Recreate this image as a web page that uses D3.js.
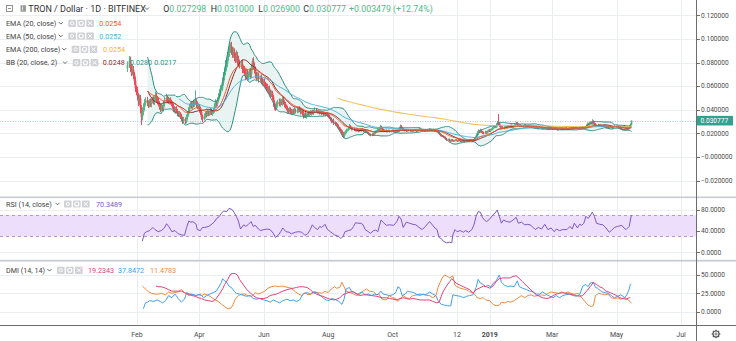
<!DOCTYPE html>
<html><head><meta charset="utf-8">
<script src="https://cdn.jsdelivr.net/npm/d3@7"></script>
<style>
html,body{margin:0;padding:0;background:#fff;}
svg{display:block;font-family:Roboto,"Open Sans","Noto Sans",sans-serif;}
</style></head>
<body><svg id="chart" width="736" height="341"></svg>
<script>
// ---------------- DATA ----------------
// day offsets are counted from 2018-02-01; prices in units of 0.00001
const dayZero = [2018, 1, 1];
const firstCandleDay = -9;
const firstOpen = 7500;
const closes = [
7800,8150,7600,7150,7400,7000,6450,5800,5650,5150,
4700,4950,4200,3400,3800,4250,4550,4800,4600,4400,
4650,4500,4750,4850,4700,4950,5200,4900,4750,4500,
4250,4100,4200,4150,4500,4800,5000,4850,4700,4800,
4650,4550,4300,4050,3950,4100,3900,3700,3600,3650,
3450,3250,3050,3200,3000,3350,3600,3900,4250,4450,
4300,4550,4400,4600,4700,4450,4250,4350,4050,3800,
3400,3250,3450,3700,3600,3800,3650,3750,3900,3700,
3800,3950,4300,4600,4500,4800,5100,5400,5800,6300,
6800,7200,7700,7900,8500,8800,9200,9400,9000,8700,
8900,8500,8300,8600,8200,8000,7800,7900,7500,7400,
7200,6900,7100,6800,7000,7200,7000,7600,8100,7700,
7400,7000,6800,6900,6600,6700,6450,6300,6400,6150,
6000,5900,5700,5800,5500,5300,5400,5100,4600,4300,
4200,4450,4650,4500,4700,4600,4900,4650,4450,4300,
4150,4000,3900,4050,3850,3750,3900,3800,3950,3850,
3950,4100,3950,3800,3900,3700,3500,3600,3450,3550,
3700,3600,3750,3650,3800,3700,3850,4000,3900,3800,
3850,3750,3800,3700,3750,3650,3700,3600,3650,3550,
3450,3300,3200,3050,3100,2900,2800,2750,2600,2450,
2350,2250,2100,1900,1800,2000,2150,2250,2300,2400,
2600,2450,2350,2400,2300,2250,2350,2250,2200,2300,
2250,2350,2300,2200,2250,2150,2100,2050,1950,1900,
1850,1950,1900,2000,2150,2200,2300,2250,2350,2550,
2400,2300,2250,2200,2250,2150,2200,2250,2150,2200,
2250,2150,2200,2100,2150,2250,2200,2350,2600,2450,
2350,2300,2250,2300,2200,2250,2300,2200,2250,2200,
2250,2300,2250,2200,2250,2300,2350,2300,2250,2300,
2250,2200,2250,2300,2250,2350,2300,2250,2300,2250,
2200,2250,2150,2200,2050,1950,1850,1800,1750,1700,
1650,1550,1450,1500,1400,1350,1450,1400,1350,1400,
1450,1400,1350,1450,1400,1350,1300,1400,1350,1300,
1350,1400,1350,1400,1450,1400,1350,1400,1500,1650,
1850,2000,2200,2150,2250,2100,2050,2000,2100,2050,
2150,2250,2200,2300,2350,2450,2500,2600,2550,2700,
2900,2850,2650,2500,2550,2450,2500,2550,2500,2600,
2550,2600,2650,2550,2600,2650,2700,2750,2850,2700,
2650,2700,2650,2600,2650,2700,2650,2600,2650,2600,
2550,2600,2500,2550,2500,2450,2500,2450,2400,2450,
2500,2450,2400,2450,2500,2400,2450,2400,2350,2400,
2450,2400,2350,2400,2350,2400,2350,2300,2350,2400,
2350,2400,2350,2400,2450,2400,2350,2400,2450,2400,
2450,2500,2400,2450,2500,2450,2400,2450,2500,2450,
2500,2450,2500,2550,2650,2800,2750,2850,2900,2850,
3000,2850,2750,2650,2700,2650,2700,2650,2600,2650,
2600,2650,2550,2500,2550,2450,2500,2550,2500,2450,
2550,2600,2550,2600,2500,2450,2400,2350,2300,2350,
2300,2350,2400,2350,2450,2550,2730,3078];
const upperWicks = [
300,400,350,250,450,300,200,350,250,300,
250,350,300,200,400,300,350,250,300,200,
250,300,200,250,300,200,350,250,200,250,
200,250,300,200,250,300,350,200,250,200,
250,200,150,200,250,150,200,150,200,250,
150,200,150,200,150,250,200,300,250,200,
250,200,300,250,950,200,250,200,150,200,
150,200,250,150,200,250,150,200,250,200,
200,150,250,300,200,250,300,350,300,400,
400,350,500,450,400,450,400,300,350,300,
400,300,350,450,300,350,250,300,350,250,
300,250,350,300,250,300,350,300,250,350,
300,250,200,300,250,200,300,250,200,250,
200,250,300,200,250,200,250,200,150,200,
200,250,200,300,250,200,250,200,150,200,
150,200,150,200,150,200,150,200,250,150,
200,150,200,150,200,150,200,150,200,150,
150,200,150,200,150,200,150,200,150,100,
150,100,150,100,150,100,150,100,150,100,
100,150,100,150,100,150,100,150,100,150,
100,150,100,150,200,150,100,150,100,150,
200,100,80,100,80,100,120,80,100,80,
100,80,120,80,100,80,100,80,100,80,
80,100,80,120,100,80,100,80,120,150,
100,80,100,80,60,80,100,80,60,80,
80,60,80,100,80,60,80,100,150,100,
80,60,80,60,80,60,80,60,80,60,
60,80,60,80,60,80,100,60,80,60,
80,60,80,60,80,100,60,80,60,80,
60,80,60,80,60,80,60,80,60,80,
60,80,60,50,60,50,80,60,50,60,
60,50,60,80,60,50,60,80,60,50,
50,60,50,60,80,60,50,60,80,100,
150,200,150,100,150,100,80,100,120,100,
100,80,120,100,80,100,120,100,80,150,
150,740,100,80,100,80,100,80,100,80,
80,100,80,100,80,60,80,100,120,80,
60,80,60,80,60,80,60,80,60,80,
60,80,60,50,60,50,60,50,60,50,
60,50,60,50,60,50,60,50,60,50,
50,60,50,60,50,60,50,60,50,60,
50,60,50,60,50,60,50,60,50,60,
60,50,60,50,60,50,60,50,60,50,
50,60,50,80,100,120,100,150,100,120,
200,100,80,100,80,100,80,60,80,60,
60,80,60,50,60,50,60,80,60,50,
60,80,60,80,60,50,60,50,60,50,
50,60,50,60,50,60,80,22];
const lowerWicks = [
300,250,400,300,250,400,350,300,400,350,
400,300,500,700,300,250,300,200,300,250,
200,250,300,200,250,300,200,250,300,200,
250,300,200,250,300,200,250,300,200,250,
200,250,200,250,200,300,200,250,200,150,
200,250,250,150,200,150,200,150,200,150,
200,250,200,150,200,250,200,250,300,250,
250,300,150,200,250,150,200,150,200,150,
200,150,200,150,250,200,150,200,250,200,
250,300,250,400,300,350,300,400,350,300,
300,400,350,300,400,350,300,350,400,300,
350,400,300,350,300,250,350,300,250,300,
300,350,300,250,300,250,300,250,300,250,
250,300,250,300,250,300,250,300,350,300,
300,200,250,200,250,200,250,200,250,200,
200,250,200,150,200,150,200,150,200,150,
150,200,150,200,150,200,250,200,150,200,
150,100,150,100,150,100,150,100,150,100,
100,150,100,150,100,150,100,150,100,150,
150,100,150,200,150,200,150,100,150,100,
150,100,150,200,200,150,100,150,100,80,
100,80,100,80,100,80,100,80,100,80,
80,100,80,100,80,100,80,100,80,100,
100,80,100,80,60,80,100,80,60,80,
80,100,80,60,80,60,80,60,80,60,
60,80,60,80,60,80,60,80,60,80,
80,60,80,60,80,60,80,60,80,60,
60,80,60,80,60,80,60,80,60,80,
80,60,80,60,80,60,80,60,80,60,
60,80,60,80,100,80,100,80,60,80,
80,100,80,60,80,100,60,80,60,50,
50,60,80,50,60,80,60,50,60,80,
60,50,60,50,60,50,60,50,60,50,
80,100,80,120,100,80,100,80,60,80,
80,60,80,100,60,80,100,60,80,100,
100,150,100,80,100,80,100,80,60,80,
60,80,60,80,60,80,60,80,60,80,
80,60,80,60,80,60,80,60,80,60,
60,50,60,50,60,50,60,50,60,50,
50,60,50,60,50,60,50,60,50,60,
60,50,60,50,60,50,60,50,60,50,
50,60,50,60,50,60,50,60,50,60,
60,50,60,50,60,50,60,50,60,50,
50,60,50,60,80,100,80,100,120,100,
120,100,80,100,80,60,80,60,80,60,
60,80,60,80,60,50,60,50,60,50,
60,50,60,50,60,50,60,50,60,50,
50,60,50,60,50,60,60,40];

// RSI (14, close): [day, value]
const rsiPoints = [[5,21],[7,36],[9,39],[12,41],[15,47],[17,43],[20,39],[23,41],[26,46],[28,54],[30,49],[33,39],[36,41],[39,35],[42,33],[45,32],[47,47],[49,59],[51,57],[53,58],[56,53],[57,43],[60,41],[62,47],[64,47],[68,49],[70,52],[73,57],[75,63],[78,68],[80,74],[82,78],[85,77],[87,83],[90,81],[92,75],[94,68],[96,59],[98,44],[101,52],[103,49],[105,52],[108,58],[110,49],[112,51],[115,44],[117,41],[120,43],[123,44],[126,43],[129,36],[131,28],[134,33],[136,39],[138,46],[141,39],[144,38],[146,35],[150,38],[153,39],[156,38],[159,32],[162,36],[164,43],[166,52],[168,47],[171,43],[173,49],[175,47],[178,53],[180,44],[183,39],[185,36],[187,33],[191,30],[193,26],[195,30],[197,39],[200,41],[203,43],[205,49],[207,56],[209,55],[212,55],[214,52],[216,43],[219,39],[221,36],[224,41],[226,42],[228,39],[231,61],[233,57],[236,51],[239,52],[243,51],[246,58],[248,68],[250,63],[252,47],[255,57],[258,55],[261,53],[264,52],[267,47],[270,43],[273,49],[277,58],[280,51],[282,46],[284,43],[286,28],[288,26],[290,21],[293,18],[296,19],[298,18],[299,33],[301,43],[303,39],[306,41],[309,38],[311,41],[314,38],[317,43],[319,52],[321,68],[323,77],[325,76],[327,66],[329,61],[331,58],[334,63],[337,71],[339,74],[341,80],[343,68],[345,55],[347,61],[350,58],[353,57],[356,61],[359,66],[361,55],[364,57],[367,52],[370,53],[373,51],[377,43],[380,47],[383,44],[386,53],[389,43],[392,46],[395,39],[397,44],[400,41],[403,43],[407,43],[410,49],[412,44],[414,55],[417,46],[419,53],[421,51],[423,55],[425,68],[427,64],[429,69],[431,76],[433,68],[435,55],[438,53],[441,52],[444,46],[447,38],[449,41],[452,47],[455,49],[459,51],[461,46],[463,43],[466,49],[468,70.35]];

// DMI (14, 14): +DI, -DI, ADX  [day, value]
const plusDI = [[6,4],[8,12],[10,13],[12,15],[16,14],[19,16],[22,14],[24,12],[27,15],[30,22],[33,19],[36,24],[39,18],[42,13],[45,17],[47,26],[50,24],[54,23],[56,22],[60,24],[63,19],[66,22],[69,24],[72,26],[75,28],[78,35],[80,40],[81,45],[83,42],[85,40],[87,35],[90,32],[92,28],[94,25],[97,24],[101,22],[104,21],[107,22],[110,18],[113,17],[116,18],[120,16],[123,15],[126,13],[129,16],[132,14],[135,12],[138,15],[142,17],[145,15],[148,16],[151,14],[154,16],[157,24],[161,26],[164,24],[167,27],[170,26],[173,23],[176,19],[179,16],[182,15],[184,18],[187,17],[191,14],[194,10],[196,17],[198,31],[201,33],[203,28],[206,26],[209,24],[213,27],[216,23],[219,24],[222,22],[225,24],[228,23],[231,28],[233,24],[236,23],[239,22],[242,23],[245,26],[247,34],[249,32],[251,22],[254,24],[256,28],[259,27],[262,26],[265,23],[268,24],[272,23],[275,24],[277,27],[280,24],[283,22],[285,15],[288,10],[291,9],[294,8],[297,8],[299,23],[302,22],[306,21],[309,19],[312,21],[315,22],[318,23],[321,33],[323,44],[325,39],[328,37],[330,34],[332,36],[335,34],[338,40],[340,42],[343,50],[345,40],[348,36],[351,34],[354,35],[357,34],[360,42],[362,34],[365,32],[369,30],[372,28],[375,27],[378,24],[381,24],[384,27],[388,23],[391,21],[394,19],[397,22],[400,19],[403,22],[406,23],[409,24],[413,22],[416,21],[419,23],[422,35],[425,37],[427,34],[429,39],[432,40],[434,33],[436,32],[440,27],[443,26],[446,25],[449,22],[452,19],[455,21],[458,23],[462,19],[464,24],[466,31],[467,37],[468,37.85]];
const minusDI = [[5,35],[8,31],[11,27],[14,25],[17,24],[20,24],[23,25],[27,23],[30,27],[33,25],[36,26],[39,27],[42,30],[45,26],[49,22],[52,24],[55,22],[58,23],[61,22],[64,24],[68,22],[71,19],[74,16],[77,14],[80,10],[83,7],[86,4],[89,5],[91,10],[93,17],[96,22],[99,24],[102,24],[105,22],[109,21],[112,26],[115,24],[118,26],[121,28],[124,32],[127,34],[131,35],[134,34],[137,35],[140,34],[143,33],[146,32],[150,27],[153,24],[156,22],[159,26],[162,23],[165,24],[168,27],[172,26],[175,25],[178,28],[181,26],[184,31],[187,34],[189,32],[192,33],[194,40],[196,34],[198,28],[202,26],[205,24],[208,22],[211,24],[214,28],[217,31],[220,28],[224,27],[227,23],[229,24],[232,17],[236,16],[239,22],[242,19],[245,18],[247,14],[249,17],[252,22],[255,19],[258,18],[261,22],[265,23],[268,22],[271,24],[274,22],[277,22],[280,19],[283,22],[285,33],[287,40],[289,46],[291,50],[294,48],[296,46],[299,49],[301,36],[303,34],[306,32],[309,31],[312,30],[315,27],[318,26],[320,23],[322,19],[325,18],[328,19],[330,16],[334,15],[337,10],[340,8],[343,9],[345,13],[348,12],[351,14],[354,13],[357,15],[360,18],[364,22],[367,19],[370,22],[373,23],[376,21],[379,22],[383,23],[386,22],[389,25],[392,27],[395,26],[399,25],[402,27],[405,25],[408,27],[411,25],[414,24],[418,25],[421,19],[424,14],[427,9],[430,7],[432,8],[434,22],[437,25],[440,24],[443,23],[446,24],[449,19],[452,18],[455,19],[458,17],[462,19],[465,16],[467,13.5],[468,11.48]];
const adxPoints = [[18,35],[20,34],[23,34],[27,32],[30,30],[33,28],[36,28],[39,28],[42,28],[45,26],[48,24],[52,22],[55,21],[58,19],[61,18],[64,16],[68,15],[71,14],[73,15],[75,18],[78,24],[81,31],[83,37],[86,44],[88,50],[90,52],[93,52],[95,50],[97,44],[101,36],[104,30],[107,26],[110,22],[113,19],[116,18],[120,18],[123,19],[126,22],[129,23],[132,24],[135,26],[138,28],[142,30],[145,31],[148,32],[151,33],[154,34],[157,34],[161,33],[164,30],[167,26],[170,24],[173,22],[176,21],[179,19],[183,17],[186,16],[189,17],[192,19],[195,23],[198,25],[202,27],[205,27],[208,24],[211,22],[214,23],[217,23],[222,22],[227,21],[232,19],[236,19],[239,18],[243,17],[246,16],[249,18],[252,19],[255,18],[258,17],[261,18],[265,17],[268,16],[271,16],[274,16],[277,16],[280,14],[284,12],[286,13],[288,21],[290,28],[293,35],[296,41],[298,45],[300,42],[302,39],[306,36],[309,34],[312,32],[315,30],[318,25],[321,30],[324,32],[328,35],[331,34],[334,32],[337,35],[340,41],[343,45],[346,46],[349,46],[353,46],[356,48],[359,49],[362,45],[365,41],[369,35],[372,31],[375,27],[378,23],[381,21],[384,19],[388,18],[391,19],[394,22],[397,24],[400,25],[403,26],[406,25],[410,24],[413,23],[416,22],[419,21],[422,22],[425,27],[429,34],[432,40],[435,37],[438,34],[441,32],[444,28],[448,26],[451,24],[454,22],[457,19],[460,18],[463,17],[466,19],[467,19.23]];

// Axis ticks & labels
const priceTicks = [0.12, 0.10, 0.08, 0.06, 0.04, 0.02, 0, -0.02];
const priceTickLabels = ["0.120000","0.100000","0.080000","0.060000","0.040000","0.020000","\u22120.000000","\u22120.020000"];
const rsiTicks = [80, 40, 0];
const rsiTickLabels = ["80.0000","40.0000","0.0000"];
const dmiTicks = [50, 25, 0];
const dmiTickLabels = ["50.0000","25.0000","0.0000"];
const timeTickDates = [[2018,1,1],[2018,3,1],[2018,5,1],[2018,7,1],[2018,9,1],[2018,11,1],[2019,0,1],[2019,2,1],[2019,4,1],[2019,6,1]];
const timeTickLabels = ["Feb","Apr","Jun","Aug","Oct","12","2019","Mar","May","Jul"];

// Legend texts
const headerTitle = "TRON / Dollar \u00b7 1D \u00b7 BITFINEX";
const ohlcLabels = ["O","H","L","C"];
const ohlcValues = ["0.027298","0.031000","0.026900","0.030777"];
const changeText = "+0.003479 (+12.74%)";
const lastPrice = 0.030777;
const emaLegend = [["EMA (20, close)","0.0254"],["EMA (50, close)","0.0252"],["EMA (200, close)","0.0254"]];
const bbLegend = ["BB (20, close, 2)","0.0248","0.0280","0.0217"];
const rsiLegend = ["RSI (14, close)","70.3489"];
const dmiLegend = ["DMI (14, 14)","19.2343","37.8472","11.4783"];

// ---------------- DRAW ----------------
const C = {
  up:"#53b987", down:"#eb4d5c", grid:"#eaeef3", text:"#4a4a4a",
  ema20:"#f0592d", ema50:"#45b3de", ema200:"#f4b43a",
  bbBasis:"#8c2a2a", bbBand:"#2f8f82", bbFill:"#e9f4f2",
  rsi:"#7e57c2", rsiFill:"#eddffc", rsiDash:"#b09ad8",
  adx:"#e5407a", pdi:"#42a0ef", mdi:"#f08a3e", last:"#2fa38f", lastDot:"#9dd5cc"
};
const svg = d3.select("#chart");
const AX = 696.5;
const dateOf = d => new Date(dayZero[0], dayZero[1], dayZero[2] + d);
const x = d3.scaleTime().domain([new Date(2018,1,1), new Date(2019,6,1)]).range([137,681]);
const yP = d3.scaleLinear().domain([0,0.12]).range([157,15.3]);
const yR = d3.scaleLinear().domain([0,80]).range([252.3,210]);
const yD = d3.scaleLinear().domain([0,50]).range([311.7,275]);
const px = v => v/100000;

const defs = svg.append("defs");
[["clipMain",0,0,AX,196],["clipRsi",0,198,AX,61],["clipDmi",0,262,AX,63.5]].forEach(([id,x0,y0,w,h])=>{
  defs.append("clipPath").attr("id",id).append("rect").attr("x",x0).attr("y",y0).attr("width",w).attr("height",h);
});

// gridlines
const g = svg.append("g");
timeTickDates.forEach(t=>{
  const xx = Math.round(x(new Date(t[0],t[1],t[2])))+0.5;
  g.append("line").attr("x1",xx).attr("x2",xx).attr("y1",0).attr("y2",326).attr("stroke",C.grid);
});
priceTicks.forEach(v=>{ const yy=Math.round(yP(v))+0.5; g.append("line").attr("x1",0).attr("x2",AX).attr("y1",yy).attr("y2",yy).attr("stroke",C.grid);});
rsiTicks.forEach(v=>{ const yy=Math.round(yR(v))+0.5; g.append("line").attr("x1",0).attr("x2",AX).attr("y1",yy).attr("y2",yy).attr("stroke",C.grid);});
dmiTicks.forEach(v=>{ const yy=Math.round(yD(v))+0.5; g.append("line").attr("x1",0).attr("x2",AX).attr("y1",yy).attr("y2",yy).attr("stroke",C.grid);});

// ---- candles & indicators
const bars = closes.map((c,i)=>{
  const o = i ? closes[i-1] : firstOpen;
  return {date:dateOf(firstCandleDay+i), o, c,
    h: Math.max(o,c)+(upperWicks[i]||0), l: Math.min(o,c)-(lowerWicks[i]||0)};
});
function ema(vals,n){
  const k=2/(n+1); let prev=null;
  return vals.map((v,i)=>{
    if(i<n-1) return null;
    prev = (i===n-1) ? d3.mean(vals.slice(0,n)) : v*k+prev*(1-k);
    return prev;
  });
}
const e20=ema(closes,20), e50=ema(closes,50), e200=ema(closes,200);
const bb = closes.map((v,i)=>{
  if(i<19) return null;
  const w=closes.slice(i-19,i+1), m=d3.mean(w);
  const sd=Math.sqrt(d3.mean(w,z=>(z-m)*(z-m)));
  return {m, u:m+2*sd, l:m-2*sd};
});

const main = svg.append("g").attr("clip-path","url(#clipMain)");
const bbData = bars.map((b,i)=>({date:b.date, v:bb[i]})).filter(d=>d.v);
main.append("path").datum(bbData)
  .attr("d", d3.area().x(d=>x(d.date)).y0(d=>yP(px(d.v.l))).y1(d=>yP(px(d.v.u))))
  .attr("fill",C.bbFill);

// dotted last price line
const yl = Math.round(yP(lastPrice))+0.5;
main.append("line").attr("x1",0).attr("x2",AX).attr("y1",yl).attr("y2",yl)
  .attr("stroke",C.lastDot).attr("stroke-dasharray","1,1.5").attr("stroke-width",1);

const cg = main.append("g");
bars.forEach(b=>{
  const xx = Math.round(x(b.date))+0.5;
  const col = b.c>=b.o ? C.up : C.down;
  cg.append("line").attr("x1",xx).attr("x2",xx).attr("y1",yP(px(b.h))).attr("y2",yP(px(b.l)))
    .attr("stroke",col).attr("stroke-width",1);
  const yt=yP(px(Math.max(b.o,b.c))), yb=yP(px(Math.min(b.o,b.c)));
  cg.append("rect").attr("x",xx-0.9).attr("width",1.8).attr("y",yt).attr("height",Math.max(0.8,yb-yt)).attr("fill",col);
});

function lineOf(arr,color,w){
  const data = bars.map((b,i)=>({date:b.date,v:arr[i]}));
  main.append("path").datum(data)
    .attr("d", d3.line().defined(d=>d.v!=null).x(d=>x(d.date)).y(d=>yP(px(d.v))))
    .attr("fill","none").attr("stroke",color).attr("stroke-width",w||1);
}
lineOf(bb.map(d=>d?d.u:null),C.bbBand,1);
lineOf(bb.map(d=>d?d.l:null),C.bbBand,1);
lineOf(bb.map(d=>d?d.m:null),C.bbBasis,1);
lineOf(e200,C.ema200,1);
lineOf(e50,C.ema50,1);
lineOf(e20,C.ema20,1);

// ---- RSI panel
const rs = svg.append("g").attr("clip-path","url(#clipRsi)");
rs.append("rect").attr("x",0).attr("width",AX).attr("y",yR(70)).attr("height",yR(30)-yR(70)).attr("fill",C.rsiFill);
[70,30].forEach(v=>{ const yy=Math.round(yR(v))+0.5;
  rs.append("line").attr("x1",0).attr("x2",AX).attr("y1",yy).attr("y2",yy).attr("stroke",C.rsiDash).attr("stroke-dasharray","3,3");});
rs.append("path").datum(rsiPoints)
  .attr("d", d3.line().x(d=>x(dateOf(d[0]))).y(d=>yR(d[1])))
  .attr("fill","none").attr("stroke",C.rsi).attr("stroke-width",1);

// ---- DMI panel
const dm = svg.append("g").attr("clip-path","url(#clipDmi)");
[[minusDI,C.mdi],[plusDI,C.pdi],[adxPoints,C.adx]].forEach(([arr,col])=>{
  dm.append("path").datum(arr)
    .attr("d", d3.line().x(d=>x(dateOf(d[0]))).y(d=>yD(d[1])))
    .attr("fill","none").attr("stroke",col).attr("stroke-width",1);
});

// ---- separators & axes
svg.append("rect").attr("x",0).attr("y",196.5).attr("width",736).attr("height",1.6).attr("fill","#c9ccd2");
svg.append("rect").attr("x",0).attr("y",259.8).attr("width",736).attr("height",1.8).attr("fill","#c9ccd2");
svg.append("line").attr("x1",0).attr("x2",736).attr("y1",325.5).attr("y2",325.5).attr("stroke","#6d6d6d");
svg.append("line").attr("x1",AX).attr("x2",AX).attr("y1",0).attr("y2",341).attr("stroke","#6d6d6d");

function yAxisLabels(ticks,labels,scale){
  ticks.forEach((v,i)=>{
    const yy = scale(v);
    svg.append("line").attr("x1",AX).attr("x2",AX+3.5).attr("y1",Math.round(yy)+0.5).attr("y2",Math.round(yy)+0.5).attr("stroke","#6d6d6d");
    svg.append("text").attr("x",701).attr("y",yy).attr("dy","0.35em")
      .attr("font-size",6.6).attr("fill",C.text).text(labels[i]);
  });
}
yAxisLabels(priceTicks,priceTickLabels,yP);
yAxisLabels(rsiTicks,rsiTickLabels,yR);
yAxisLabels(dmiTicks,dmiTickLabels,yD);

// last price tag
svg.append("rect").attr("x",697).attr("y",yP(lastPrice)-4.8).attr("width",36).attr("height",9.6).attr("fill",C.last);
svg.append("text").attr("x",700.5).attr("y",yP(lastPrice)).attr("dy","0.35em").attr("font-size",6.6).attr("fill","#fff").text(d3.format(".6f")(lastPrice));

// time labels
timeTickDates.forEach((t,i)=>{
  svg.append("text").attr("x",x(new Date(t[0],t[1],t[2]))).attr("y",334.5).attr("dy","0.35em")
    .attr("text-anchor","middle").attr("font-size",7).attr("fill",C.text)
    .attr("font-weight",timeTickLabels[i]==="2019"?"bold":"normal").text(timeTickLabels[i]);
});

// gear icon
const gear = svg.append("g").attr("transform","translate(716,334)");
d3.range(8).forEach(k=>{ const a=k*Math.PI/4;
  gear.append("line").attr("x1",Math.cos(a)*2.8).attr("y1",Math.sin(a)*2.8).attr("x2",Math.cos(a)*4.3).attr("y2",Math.sin(a)*4.3)
    .attr("stroke","#555").attr("stroke-width",1.3);});
gear.append("circle").attr("r",3).attr("fill","#fff").attr("stroke","#555").attr("stroke-width",1.1);
gear.append("circle").attr("r",1.1).attr("fill","none").attr("stroke","#555").attr("stroke-width",0.8);

// ---- legends
function chevron(x0,yc){
  svg.append("path").attr("d",`M${x0},${yc-1.2} L${x0+2},${yc+0.8} L${x0+4},${yc-1.2}`)
    .attr("fill","none").attr("stroke","#555").attr("stroke-width",0.9);
}
function icons(x0,yc){
  [0,1,2].forEach(k=>{
    const gx=x0+k*9, gy=yc-3.6;
    svg.append("rect").attr("x",gx).attr("y",gy).attr("width",7.6).attr("height",7.2).attr("rx",0.8).attr("fill","#cfd1d4");
    if(k===0){ svg.append("circle").attr("cx",gx+3.8).attr("cy",gy+3.6).attr("r",1.6).attr("fill","none").attr("stroke","#fff").attr("stroke-width",0.9);}
    if(k===1){ svg.append("circle").attr("cx",gx+3.8).attr("cy",gy+3.6).attr("r",2).attr("fill","none").attr("stroke","#fff").attr("stroke-width",1.1);}
    if(k===2){ svg.append("path").attr("d",`M${gx+1.8},${gy+1.7} L${gx+5.8},${gy+5.5} M${gx+5.8},${gy+1.7} L${gx+1.8},${gy+5.5}`).attr("stroke","#fff").attr("stroke-width",1);}
  });
}
function txt(x0,yc,s,size,col,weight){
  return svg.append("text").attr("x",x0).attr("y",yc).attr("dy","0.35em").attr("font-size",size).attr("fill",col)
    .attr("font-weight",weight||"normal").text(s);
}

// header
svg.append("rect").attr("x",6.5).attr("y",5.5).attr("width",6).attr("height",6).attr("fill","none").attr("stroke","#777").attr("stroke-width",0.8);
svg.append("line").attr("x1",8).attr("x2",11).attr("y1",8.5).attr("y2",8.5).attr("stroke","#777").attr("stroke-width",0.8);
svg.append("rect").attr("x",20.5).attr("y",5.3).attr("width",5.5).attr("height",6.4).attr("fill","#9b9b9b");
svg.append("rect").attr("x",22).attr("y",6.5).attr("width",1).attr("height",4).attr("fill","#e0e0e0");
txt(28.3,8.5,headerTitle,9,"#333");
chevron(145,8.7);
const ohlcX=[163.3,210.7,258.3,303.3];
ohlcLabels.forEach((l,i)=>{
  const t=svg.append("text").attr("x",ohlcX[i]).attr("y",8.5).attr("dy","0.35em").attr("font-size",8.8);
  t.append("tspan").attr("fill","#333").text(l);
  t.append("tspan").attr("fill",C.up).text(ohlcValues[i]);
});
txt(349,8.5,changeText,8.8,C.up);

const emaCols=[C.ema20,C.ema50,C.ema200];
const rowY=[23.3,36,49.3,62.7];
const iconX=[68.3,68.3,71.7];
const valX=[99.3,99.3,103];
emaLegend.forEach((r,i)=>{
  txt(6,rowY[i],r[0],7.2,"#444");
  chevron(iconX[i]-9.5,rowY[i]);
  icons(iconX[i],rowY[i]);
  txt(valX[i],rowY[i],r[1],7.2,emaCols[i]);
});
txt(6,rowY[3],bbLegend[0],7.2,"#444");
chevron(63,rowY[3]); icons(72.7,rowY[3]);
txt(102.7,rowY[3],bbLegend[1],7.2,C.bbBasis);
txt(130,rowY[3],bbLegend[2],7.2,C.bbBand);
txt(154.3,rowY[3],bbLegend[3],7.2,C.bbBand);

txt(6,204,rsiLegend[0],7.2,"#444"); chevron(55.5,204); icons(64,204);
txt(96,204,rsiLegend[1],7.2,C.rsi);
txt(6,270.3,dmiLegend[0],7.2,"#444"); chevron(47.5,270.3); icons(57,270.3);
txt(88,270.3,dmiLegend[1],7.2,C.adx);
txt(118,270.3,dmiLegend[2],7.2,C.pdi);
txt(150,270.3,dmiLegend[3],7.2,C.mdi);
</script>
</body></html>
